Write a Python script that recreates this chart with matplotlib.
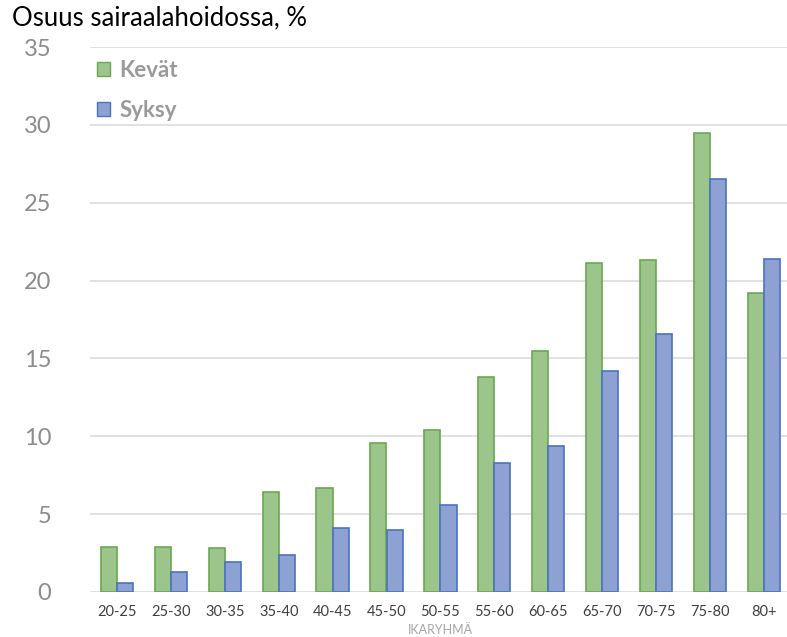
import matplotlib
matplotlib.use("Agg")
import matplotlib.pyplot as plt
import numpy as np
from matplotlib.patches import Patch

categories = ["20-25", "25-30", "30-35", "35-40", "40-45", "45-50", "50-55",
              "55-60", "60-65", "65-70", "70-75", "75-80", "80+"]
kevat = [2.9, 2.9, 2.8, 6.4, 6.7, 9.6, 10.4, 13.8, 15.5, 21.1, 21.3, 29.5, 19.2]
syksy = [0.6, 1.3, 1.9, 2.4, 4.1, 4.0, 5.6, 8.3, 9.4, 14.2, 16.6, 26.5, 21.4]
yticks = [0, 5, 10, 15, 20, 25, 30, 35]

plt.rcParams['font.family'] = ['Lato', 'DejaVu Sans']

fig = plt.figure(figsize=(7.87, 6.37), dpi=100)
ax = fig.add_axes([90/787, 45/637, 697/787, 545/637])

x = np.arange(len(categories))
w = 0.3
g_face, g_edge = "#9cc58c", "#6aa84f"
b_face, b_edge = "#8ea1d3", "#4a72c0"
ax.bar(x - w/2, kevat, w, color=g_face, edgecolor=g_edge, linewidth=1.2, zorder=3, label="Kevät")
ax.bar(x + w/2, syksy, w, color=b_face, edgecolor=b_edge, linewidth=1.2, zorder=3, label="Syksy")

ax.set_xlim((90-117)/53.9, (787-117)/53.9)
ax.set_ylim(0, 35)
ax.set_yticks(yticks)
ax.set_yticklabels([str(t) for t in yticks], fontsize=17, color="#8c8c8c")
ax.set_xticks(x)
ax.set_xticklabels(categories, fontsize=10.5, color="#404040")
ax.tick_params(axis="both", length=0)
ax.tick_params(axis="y", pad=28)
ax.tick_params(axis="x", pad=9)
for s in ax.spines.values():
    s.set_visible(False)
ax.grid(axis="y", color="#dcdcdc", linewidth=1.2, zorder=0)
ax.set_axisbelow(True)

fig.text(440/787, 1 - 630/637, "IKARYHMÄ", fontsize=9, color="#a6a6a6", ha="center", va="center")
fig.text(12/787, 1 - 18/637, "Osuus sairaalahoidossa, %", fontsize=18.5, color="#000000", ha="left", va="center")

handles = [Patch(facecolor=g_face, edgecolor=g_edge), Patch(facecolor=b_face, edgecolor=b_edge)]
leg = ax.legend(handles, ["Kevät", "Syksy"], loc="upper left", bbox_to_anchor=(0.01, 0.976),
                frameon=False, fontsize=16, labelspacing=0.85, handlelength=0.6, handleheight=0.6,
                handletextpad=0.4, borderpad=0, borderaxespad=0)
for t in leg.get_texts():
    t.set_color("#9a9a9a")
    t.set_fontweight("bold")

fig.savefig("out.png", dpi=100)
